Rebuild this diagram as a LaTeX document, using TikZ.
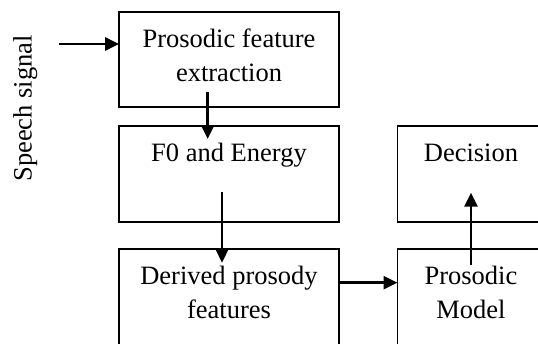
\documentclass[tikz,border=0pt]{standalone}
\usepackage{fontspec}
\setmainfont{Liberation Serif}
\usetikzlibrary{arrows.meta,calc}
\tikzset{
  box/.style={draw, line width=1.9pt, inner sep=0pt, outer sep=0pt, minimum width=220pt, minimum height=96pt},
  rbox/.style={box, minimum width=147pt},
  txt/.style={font=\fontsize{26.5}{34}\selectfont, align=center, inner sep=0pt, anchor=base},
  arr/.style={line width=2.6pt, -{Triangle[length=14pt,width=13pt]}}
}
\begin{document}
\begin{tikzpicture}[x=1pt,y=-1pt]
\clip (0,0) rectangle (538,343);
\node[box, minimum height=95.3pt] (b1) at (229,59.35) {};
\node[box] (b2) at (229,174) {};
\node[box] (b3) at (229,297) {};
\node[rbox] (b4) at (471,174) {};
\node[rbox] (b5) at (471,297) {};
\node[txt] (t1) at (229,81.5) {Prosodic feature\\extraction};
\node[txt] (t2) at (229,161.5) {F0 and Energy};
\node[txt] (t3) at (229,318.5) {Derived prosody\\features};
\node[txt] (t4) at (471,161) {Decision};
\node[txt] (t5) at (471,318.5) {Prosodic\\Model};
\node[txt, rotate=90] (sp) at (31.5,108.5) {Speech signal};
\coordinate (sig) at (59,44);
\draw[arr] (sig) -- (sig -| b1.west);
\draw[arr] ($(b1.south)+(-21.3,-15)$) -- ($(b2.north)+(-21.3,13)$);
\draw[arr] ($(b2.south)+(-7,-30.3)$) -- ($(b3.north)+(-7,13.7)$);
\draw[arr] ($(b3.east)+(0,-14.3)$) -- ($(b5.west)+(0,-14.3)$);
\draw[arr] ($(b5.north)+(0,16)$) -- ($(b4.south)+(0,-29.3)$);
\end{tikzpicture}
\end{document}
